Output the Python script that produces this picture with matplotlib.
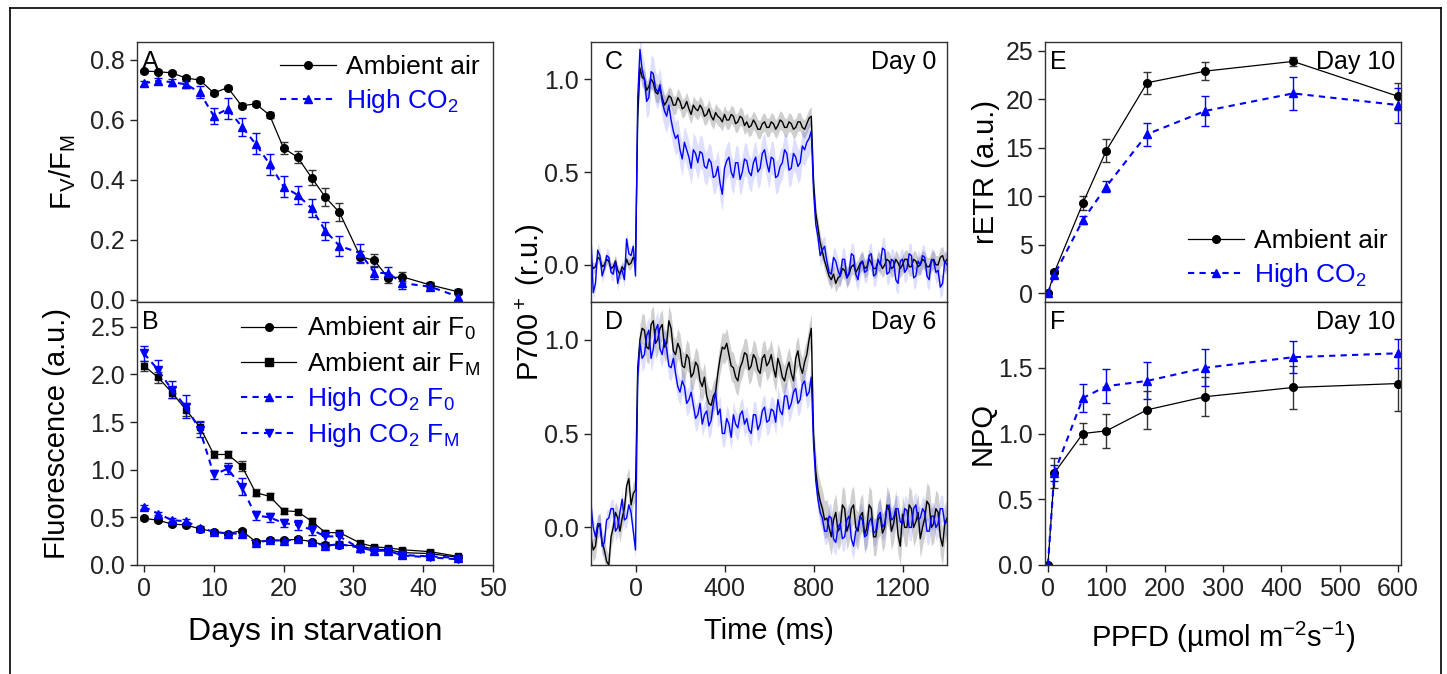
import numpy as np
import matplotlib
matplotlib.use("Agg")
import matplotlib.pyplot as plt
from matplotlib.lines import Line2D

plt.rcParams['font.family'] = ['Liberation Sans', 'DejaVu Sans']
plt.rcParams['mathtext.fontset'] = 'custom'
plt.rcParams['mathtext.rm'] = 'Liberation Sans'
plt.rcParams['mathtext.it'] = 'Liberation Sans:italic'
plt.rcParams['axes.linewidth'] = 1.0
plt.rcParams['axes.edgecolor'] = '#333333'

BLUE = '#0000ff'

# ---- A / B: starvation time course ----
days = [0, 2, 4, 6, 8, 10, 12, 14, 16, 18, 20, 22, 24, 26, 28, 31, 33, 35, 37, 41, 45]
fvfm_air = [0.763, 0.761, 0.757, 0.74, 0.733, 0.69, 0.708, 0.647, 0.654, 0.616, 0.506, 0.476,
            0.408, 0.342, 0.292, 0.144, 0.132, 0.073, 0.077, 0.05, 0.027]
fvfm_air_err = [0.005, 0.005, 0.005, 0.005, 0.006, 0.008, 0.006, 0.008, 0.008, 0.01, 0.02, 0.02,
                0.025, 0.03, 0.03, 0.02, 0.02, 0.015, 0.015, 0.01, 0.008]
fvfm_co2 = [0.722, 0.731, 0.726, 0.719, 0.692, 0.613, 0.637, 0.578, 0.52, 0.453, 0.378, 0.35,
            0.306, 0.23, 0.18, 0.156, 0.091, 0.089, 0.056, 0.044, 0.011]
fvfm_co2_err = [0.008, 0.01, 0.012, 0.012, 0.02, 0.028, 0.035, 0.03, 0.035, 0.035, 0.035, 0.03,
                0.03, 0.03, 0.032, 0.03, 0.02, 0.02, 0.02, 0.012, 0.01]

f0_air = [0.49, 0.47, 0.43, 0.42, 0.38, 0.35, 0.33, 0.36, 0.245, 0.26, 0.26, 0.27, 0.245, 0.21,
          0.21, 0.2, 0.165, 0.16, 0.13, 0.12, 0.08]
fm_air = [2.09, 1.97, 1.81, 1.63, 1.45, 1.16, 1.16, 1.04, 0.76, 0.72, 0.57, 0.56, 0.46, 0.34,
          0.34, 0.23, 0.19, 0.18, 0.16, 0.14, 0.09]
fm_air_err = [0.05, 0.06, 0.06, 0.07, 0.06, 0.04, 0.04, 0.05, 0.04, 0.04, 0.03, 0.03, 0.03, 0.03,
              0.03, 0.02, 0.02, 0.02, 0.02, 0.02, 0.02]
f0_co2 = [0.61, 0.54, 0.47, 0.46, 0.39, 0.35, 0.33, 0.33, 0.235, 0.26, 0.255, 0.27, 0.245, 0.2,
          0.22, 0.18, 0.15, 0.15, 0.105, 0.09, 0.075]
fm_co2 = [2.22, 2.05, 1.84, 1.66, 1.42, 0.95, 1.01, 0.82, 0.52, 0.5, 0.44, 0.42, 0.37, 0.3,
          0.3, 0.17, 0.15, 0.15, 0.1, 0.08, 0.06]
fm_co2_err = [0.08, 0.1, 0.09, 0.12, 0.08, 0.05, 0.06, 0.09, 0.05, 0.05, 0.04, 0.05, 0.05, 0.06,
              0.05, 0.03, 0.03, 0.03, 0.02, 0.02, 0.02]
f0_err = 0.02

# ---- C / D: P700+ kinetics, read every 10 ms (one row = 100 ms) ----
time_ms = list(range(-200, 1401, 10))
p700_d0_air = [
    0.02, -0.02, -0.01, 0.04, 0.03, -0.01, 0.0, 0.03, 0.02, -0.02,
    -0.01, 0.02, -0.03, -0.05, -0.01, -0.03, 0.03, 0.0, 0.01, 0.04,
    0.02, 0.8, 1.06, 1.01, 1.0, 0.94, 0.96, 1.0, 0.98, 0.93,
    0.92, 0.95, 0.9, 0.86, 0.88, 0.91, 0.9, 0.86, 0.86, 0.9,
    0.88, 0.84, 0.85, 0.88, 0.84, 0.81, 0.86, 0.84, 0.83, 0.86,
    0.84, 0.8, 0.81, 0.84, 0.8, 0.78, 0.82, 0.8, 0.79, 0.77,
    0.81, 0.78, 0.78, 0.81, 0.8, 0.76, 0.77, 0.8, 0.79, 0.75,
    0.77, 0.74, 0.75, 0.78, 0.76, 0.73, 0.73, 0.76, 0.77, 0.74,
    0.74, 0.77, 0.76, 0.73, 0.75, 0.78, 0.77, 0.74, 0.74, 0.77,
    0.76, 0.73, 0.74, 0.77, 0.77, 0.74, 0.73, 0.76, 0.79, 0.8,
    0.45, 0.28, 0.2, 0.12, 0.07, 0.02, -0.02, -0.06, -0.08, -0.05,
    -0.1, -0.07, -0.06, -0.02, -0.03, -0.07, -0.05, -0.01, 0.0, -0.04,
    -0.02, 0.01, 0.02, -0.02, -0.01, 0.03, 0.01, -0.02, -0.02, 0.02,
    0.01, -0.02, 0.0, 0.03, 0.02, -0.02, -0.01, 0.03, 0.01, -0.02,
    0.0, 0.03, 0.03, -0.01, -0.01, 0.03, 0.02, -0.01, 0.0, 0.03,
    0.02, -0.01, -0.01, 0.02, 0.03, 0.0, 0.0, 0.04, 0.05, 0.01,
    0.03]
p700_d0_co2 = [
    0.15, -0.15, -0.1, 0.08, 0.05, -0.06, -0.02, 0.05, 0.04, -0.04,
    -0.05, 0.02, -0.1, -0.04, -0.03, -0.08, 0.14, 0.06, 0.05, 0.1,
    -0.06, 0.9, 1.16, 1.05, 1.0, 0.88, 0.9, 1.04, 1.03, 0.95,
    0.93, 0.97, 0.88, 0.83, 0.8, 0.86, 0.78, 0.72, 0.68, 0.7,
    0.62, 0.57, 0.66, 0.62, 0.58, 0.52, 0.62, 0.6, 0.55, 0.61,
    0.6, 0.53, 0.52, 0.57, 0.55, 0.47, 0.48, 0.53, 0.44, 0.38,
    0.52, 0.56, 0.58, 0.5, 0.47, 0.55, 0.55, 0.46, 0.5, 0.57,
    0.56, 0.5, 0.48, 0.55, 0.58, 0.5, 0.52, 0.6, 0.62, 0.55,
    0.5, 0.58, 0.57, 0.47, 0.48, 0.53, 0.55, 0.62, 0.6, 0.51,
    0.52, 0.6, 0.58, 0.53, 0.55, 0.64, 0.62, 0.66, 0.68, 0.72,
    0.4, 0.22, 0.15, 0.05, 0.08, 0.1, 0.02, -0.04, -0.05, 0.04,
    0.02, -0.03, -0.06, 0.03, 0.03, -0.07, -0.04, 0.06, 0.05, -0.05,
    -0.08, 0.0, 0.02, -0.04, -0.03, 0.05, 0.06, -0.06, -0.05, 0.03,
    0.0, 0.09, 0.08, -0.05, -0.04, 0.03, 0.02, -0.08, -0.1, 0.02,
    0.03, -0.04, -0.02, 0.06, 0.05, -0.07, -0.06, 0.02, 0.0, 0.05,
    0.04, -0.06, -0.08, 0.03, 0.02, -0.04, -0.03, -0.12, -0.1, 0.02,
    0.0]
p700_d6_air = [
    -0.05, -0.12, -0.1, 0.0, 0.02, -0.08, -0.12, -0.18, -0.2, -0.05,
    0.0, 0.08, 0.05, -0.02, 0.05, 0.1, 0.22, 0.26, 0.12, 0.18,
    0.2, 0.85, 1.0, 1.06, 1.05, 0.96, 0.95, 1.08, 1.1, 0.98,
    1.0, 1.06, 1.08, 0.96, 0.98, 1.1, 1.06, 0.94, 0.92, 0.98,
    0.95, 0.86, 0.85, 0.92, 0.9, 0.8, 0.82, 0.88, 0.86, 0.78,
    0.75, 0.8, 0.7, 0.66, 0.65, 0.7, 0.72, 0.82, 0.9, 0.96,
    0.95, 0.98, 0.92, 0.86, 0.85, 0.8, 0.78, 0.85, 0.88, 0.93,
    0.92, 0.84, 0.86, 0.92, 0.9, 0.84, 0.82, 0.9, 0.92, 0.86,
    0.88, 0.92, 0.85, 0.8, 0.9, 0.86, 0.8, 0.78, 0.84, 0.88,
    0.82, 0.78, 0.9, 0.94, 0.86, 0.82, 0.88, 0.92, 1.0, 1.06,
    0.5, 0.3, 0.2, 0.14, 0.1, 0.04, 0.05, 0.0, -0.05, 0.04,
    0.08, -0.02, 0.0, 0.12, 0.1, -0.02, 0.02, 0.1, 0.12, 0.0,
    -0.02, 0.06, 0.08, -0.04, 0.0, 0.12, 0.1, -0.05, -0.05, 0.04,
    0.06, -0.03, 0.0, 0.12, 0.09, -0.02, 0.02, 0.1, -0.04, -0.1,
    0.07, 0.0, 0.0, 0.12, 0.1, 0.0, 0.03, 0.08, -0.06, 0.0,
    0.05, 0.14, 0.12, 0.0, 0.02, 0.1, 0.08, -0.05, -0.1, 0.02,
    0.05]
p700_d6_co2 = [
    0.12, 0.0, -0.05, 0.02, 0.02, -0.1, -0.08, 0.04, 0.05, 0.1,
    0.1, -0.02, 0.0, 0.08, 0.15, 0.04, 0.05, 0.12, 0.08, -0.02,
    -0.12, 0.8, 0.98, 0.9, 0.92, 1.02, 1.05, 0.9, 0.95, 1.05,
    1.08, 0.95, 0.92, 1.0, 0.95, 0.86, 0.85, 0.9, 0.82, 0.75,
    0.72, 0.78, 0.75, 0.66, 0.68, 0.72, 0.65, 0.58, 0.6, 0.66,
    0.55, 0.6, 0.62, 0.54, 0.57, 0.66, 0.72, 0.6, 0.63, 0.5,
    0.5, 0.58, 0.55, 0.48, 0.6, 0.55, 0.53, 0.6, 0.62, 0.55,
    0.58, 0.52, 0.5, 0.6, 0.6, 0.52, 0.55, 0.62, 0.64, 0.56,
    0.57, 0.63, 0.62, 0.56, 0.68, 0.62, 0.6, 0.7, 0.7, 0.63,
    0.66, 0.72, 0.74, 0.66, 0.68, 0.76, 0.78, 0.7, 0.72, 0.8,
    0.45, 0.25, 0.15, 0.08, 0.05, -0.02, -0.02, 0.06, 0.05, -0.06,
    -0.08, 0.0, 0.02, -0.06, -0.05, 0.04, 0.06, -0.06, -0.1, -0.02,
    0.0, 0.06, 0.04, -0.05, -0.04, 0.03, 0.05, -0.03, -0.02, 0.06,
    0.08, 0.0, 0.02, 0.1, 0.12, 0.04, 0.05, 0.1, 0.1, 0.03,
    0.02, 0.1, 0.09, 0.0, 0.0, 0.1, 0.12, 0.04, 0.05, 0.1,
    0.08, -0.02, -0.02, 0.06, 0.06, 0.0, 0.02, 0.1, 0.1, 0.02,
    0.03]
# spread of the shaded bands: before light, light on, after light
band_d0_air = [0.03, 0.05, 0.05]
band_d0_co2 = [0.04, 0.09, 0.06]
band_d6_air = [0.06, 0.08, 0.1]
band_d6_co2 = [0.05, 0.07, 0.07]

# ---- E / F: light curves at day 10 ----
ppfd = [0, 11, 60, 100, 170, 270, 420, 600]
retr_air = [0, 2.16, 9.3, 14.7, 21.7, 22.9, 23.9, 20.3]
retr_air_err = [0.1, 0.2, 0.75, 1.2, 1.15, 0.9, 0.5, 1.4]
retr_co2 = [0, 1.9, 7.55, 11.0, 16.4, 18.8, 20.6, 19.4]
retr_co2_err = [0.1, 0.2, 0.45, 0.6, 1.2, 1.55, 1.7, 1.8]
npq_air = [0, 0.70, 1.0, 1.02, 1.18, 1.28, 1.35, 1.38]
npq_air_err = [0, 0.117, 0.08, 0.13, 0.145, 0.15, 0.16, 0.21]
npq_co2 = [0, 0.70, 1.27, 1.36, 1.40, 1.50, 1.58, 1.61]
npq_co2_err = [0, 0.06, 0.11, 0.13, 0.14, 0.14, 0.12, 0.11]

W, H = 1447, 674
fig = plt.figure(figsize=(W / 100, H / 100), dpi=100)


def box(l, r, t, b):
    return [l / W, 1 - b / H, (r - l) / W, (b - t) / H]


axA = fig.add_axes(box(137, 493, 42, 302))
axB = fig.add_axes(box(137, 493, 302, 565))
axC = fig.add_axes(box(591, 947, 42, 302))
axD = fig.add_axes(box(591, 947, 302, 565))
axE = fig.add_axes(box(1045, 1401, 42, 302))
axF = fig.add_axes(box(1045, 1401, 302, 565))

TS = 18   # ticks, panel letters
GS = 19   # legends
LS = 21   # axis labels
for ax in (axA, axB, axC, axD, axE, axF):
    ax.tick_params(direction='out', length=5, width=1, labelsize=TS, colors='#222222')

MS = 5.5
ebk = dict(capsize=3, elinewidth=1, capthick=1)
air_kw = dict(color='black', lw=0.9, ms=MS, ecolor='#333333', **ebk)
co2_ls = (0, (3, 2.5))
co2_kw = dict(color=BLUE, lw=1.5, ls=co2_ls, ms=MS, ecolor=BLUE, **ebk)


def air_handle(m):
    return Line2D([], [], color='black', lw=0.9, marker=m, ms=MS)


def co2_handle(m):
    return Line2D([], [], color=BLUE, lw=1.5, ls=co2_ls, marker=m, ms=MS)


def legend(ax, handles, labels, colors, loc):
    leg = ax.legend(handles, labels, loc=loc, frameon=False, fontsize=GS, handlelength=2.1,
                    borderaxespad=0.1, labelspacing=0.3, handletextpad=0.4)
    for tx, c in zip(leg.get_texts(), colors):
        tx.set_color(c)


# A
axA.errorbar(days, fvfm_air, yerr=fvfm_air_err, marker='o', **air_kw)
axA.errorbar(days, fvfm_co2, yerr=fvfm_co2_err, marker='^', **co2_kw)
axA.set_xlim(-1, 50)
axA.set_ylim(-0.007, 0.86)
axA.set_yticks([0, 0.2, 0.4, 0.6, 0.8])
axA.set_xticks([0, 10, 20, 30, 40, 50])
axA.tick_params(labelbottom=False)
axA.set_ylabel('F$_\\mathregular{V}$/F$_\\mathregular{M}$', fontsize=LS)
axA.yaxis.set_label_coords(-0.165, 0.5)
legend(axA, [air_handle('o'), co2_handle('^')], ['Ambient air', 'High CO$_2$'],
       ['black', BLUE], 'upper right')
axA.text(0.015, 0.97, 'A', transform=axA.transAxes, fontsize=TS, va='top')

# B
axB.errorbar(days, f0_air, yerr=f0_err, marker='o', **air_kw)
axB.errorbar(days, fm_air, yerr=fm_air_err, marker='s', **dict(air_kw, ms=5))
axB.errorbar(days, f0_co2, yerr=f0_err, marker='^', **co2_kw)
axB.errorbar(days, fm_co2, yerr=fm_co2_err, marker='v', **co2_kw)
axB.set_xlim(-1, 50)
axB.set_ylim(0, 2.76)
axB.set_yticks([0, 0.5, 1.0, 1.5, 2.0, 2.5])
axB.set_xticks([0, 10, 20, 30, 40, 50])
axB.set_xlabel('Days in starvation', fontsize=LS + 2, labelpad=12)
axB.set_ylabel('Fluorescence (a.u.)', fontsize=LS)
axB.yaxis.set_label_coords(-0.185, 0.5)
legend(axB, [air_handle('o'), air_handle('s'), co2_handle('^'), co2_handle('v')],
       ['Ambient air F$_0$', 'Ambient air F$_\\mathregular{M}$',
        'High CO$_2$ F$_0$', 'High CO$_2$ F$_\\mathregular{M}$'],
       ['black', 'black', BLUE, BLUE], 'upper right')
axB.text(0.015, 0.97, 'B', transform=axB.transAxes, fontsize=TS, va='top')


# C / D
def phase_band(t, spread):
    return np.select([t <= 0, t <= 800], spread[:2], spread[2])


t = np.array(time_ms)
for ax, air, co2, b_air, b_co2, letter, day in (
        (axC, p700_d0_air, p700_d0_co2, band_d0_air, band_d0_co2, 'C', 'Day 0'),
        (axD, p700_d6_air, p700_d6_co2, band_d6_air, band_d6_co2, 'D', 'Day 6')):
    air = np.array(air)
    co2 = np.array(co2)
    sa = phase_band(t, b_air)
    sc = phase_band(t, b_co2)
    ax.fill_between(t, air - sa, air + sa, color='#b0b0b0', alpha=0.6, lw=0)
    ax.fill_between(t, co2 - sc, co2 + sc, color=BLUE, alpha=0.13, lw=0)
    ax.plot(t, air, color='black', lw=1.0)
    ax.plot(t, co2, color=BLUE, lw=1.0)
    ax.set_xlim(-200, 1400)
    ax.set_ylim(-0.2, 1.2)
    ax.set_yticks([0, 0.5, 1.0])
    ax.set_xticks([0, 400, 800, 1200])
    ax.text(0.04, 0.97, letter, transform=ax.transAxes, fontsize=TS, va='top')
    ax.text(0.97, 0.97, day, transform=ax.transAxes, fontsize=TS, va='top', ha='right')
axC.tick_params(labelbottom=False)
axD.set_xlabel('Time (ms)', fontsize=LS, labelpad=12)
fig.text(530 / W, 1 - 302 / H, 'P700$^+$ (r.u.)', rotation=90, fontsize=LS,
         ha='center', va='center')

# E
axE.errorbar(ppfd, retr_air, yerr=retr_air_err, marker='o', **air_kw)
axE.errorbar(ppfd, retr_co2, yerr=retr_co2_err, marker='^', **co2_kw)
axE.set_xlim(-5, 605)
axE.set_ylim(-0.9, 25.9)
axE.set_yticks([0, 5, 10, 15, 20, 25])
axE.set_xticks(range(0, 601, 100))
axE.tick_params(labelbottom=False)
axE.set_ylabel('rETR (a.u.)', fontsize=LS)
axE.yaxis.set_label_coords(-0.125, 0.5)
legend(axE, [air_handle('o'), co2_handle('^')], ['Ambient air', 'High CO$_2$'],
       ['black', BLUE], 'lower right')
axE.text(0.015, 0.97, 'E', transform=axE.transAxes, fontsize=TS, va='top')
axE.text(0.985, 0.97, 'Day 10', transform=axE.transAxes, fontsize=TS, va='top', ha='right')

# F
axF.errorbar(ppfd, npq_air, yerr=npq_air_err, marker='o', **air_kw)
axF.errorbar(ppfd, npq_co2, yerr=npq_co2_err, marker='^', **co2_kw)
axF.set_xlim(-5, 605)
axF.set_ylim(0, 2.0)
axF.set_yticks([0, 0.5, 1.0, 1.5])
axF.set_xticks(range(0, 601, 100))
axF.set_ylabel('NPQ', fontsize=LS)
axF.yaxis.set_label_coords(-0.135, 0.5)
axF.set_xlabel('PPFD (µmol m$^{-2}$s$^{-1}$)', fontsize=LS, labelpad=14)
axF.text(0.015, 0.97, 'F', transform=axF.transAxes, fontsize=TS, va='top')
axF.text(0.985, 0.97, 'Day 10', transform=axF.transAxes, fontsize=TS, va='top', ha='right')

for ax in (axA, axB, axF):
    ax.yaxis.set_major_formatter(plt.FormatStrFormatter('%.1f'))

# outer frame
fx0, fx1, fy1 = 10 / W, 1441 / W, 1 - 8 / H
for xs, ys in (([fx0, fx0], [0, fy1]), ([fx0, fx1], [fy1, fy1]), ([fx1, fx1], [0, fy1])):
    fig.add_artist(Line2D(xs, ys, transform=fig.transFigure, color='black', lw=1.2))

fig.savefig('out.png', dpi=100)
